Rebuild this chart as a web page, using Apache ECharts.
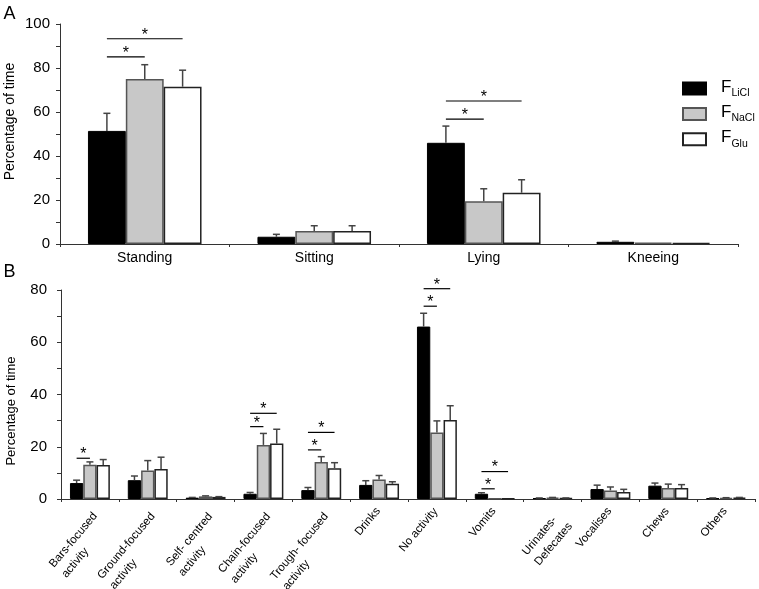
<!DOCTYPE html>
<html><head><meta charset="utf-8">
<script src="https://cdn.jsdelivr.net/npm/echarts@6/dist/echarts.min.js"></script>
<style>html,body{margin:0;padding:0;background:#fff}#c{width:759px;height:589px}</style>
</head><body><div id="c"></div>
<script>
// ---------- Data ----------
const groups = ['LiCl', 'NaCl', 'Glu'];

// Panel A: posture
const postureCats = ['Standing', 'Sitting', 'Lying', 'Kneeing'];
const postureLiCl = [51.4, 3.3, 46.0, 1.0];
const postureLiClSem = [8.0, 1.1, 7.6, 0.3];
const postureNaCl = [75.0, 5.9, 19.4, 0.6];
const postureNaClSem = [6.5, 2.4, 5.7, 0.0];
const postureGlu = [71.5, 5.9, 23.3, 0.4];
const postureGluSem = [7.5, 2.4, 5.9, 0.0];
// [category, fromGroup, toGroup, level]
const postureSig = [[0, 0, 1, 85.1], [0, 0, 2, 93.3], [2, 0, 1, 56.8], [2, 0, 2, 65.0]];
const postureTicks = [0, 20, 40, 60, 80, 100];

// Panel B: behaviours
const behavCats = ['Bars-focused\nactivity', 'Ground-focused\nactivity', 'Self- centred\nactivity',
  'Chain-focused\nactivity', 'Trough- focused\nactivity', 'Drinks', 'No activity', 'Vomits',
  'Urinates-\nDefecates', 'Vocalises', 'Chews', 'Others'];
const behavLiCl = [6.1, 7.2, 0.5, 2.0, 3.4, 5.4, 66.0, 2.0, 0.3, 3.8, 5.1, 0.3];
const behavLiClSem = [1.1, 1.6, 0.1, 0.5, 1.0, 1.6, 5.1, 0.4, 0.1, 1.5, 1.0, 0.1];
const behavNaCl = [13.1, 10.9, 1.0, 20.7, 14.2, 7.5, 25.5, 0.1, 0.5, 3.3, 4.2, 0.4];
const behavNaClSem = [1.1, 3.8, 0.2, 4.4, 2.0, 1.5, 4.4, 0.0, 0.1, 1.3, 1.5, 0.1];
const behavGlu = [13.0, 11.5, 0.8, 21.2, 11.8, 5.8, 30.2, 0.1, 0.3, 2.7, 4.2, 0.5];
const behavGluSem = [2.1, 4.5, 0.1, 5.5, 2.1, 0.8, 5.5, 0.0, 0.1, 1.0, 1.3, 0.1];
const behavSig = [[0, 0, 1, 15.6], [3, 0, 1, 27.7], [3, 0, 2, 32.8], [4, 0, 1, 18.8], [4, 0, 2, 25.5],
  [6, 0, 1, 73.8], [6, 0, 2, 80.5], [7, 0, 1, 3.9], [7, 0, 2, 10.5]];
const behavTicks = [0, 20, 40, 60, 80];

// ---------- Styling ----------
const FONT = 'Liberation Sans, Arial, sans-serif';
const gapA = 0.33, gapB = 0.31;
const barStyles = [
  { color: '#000000', borderColor: '#000000', borderWidth: 1 },
  { color: '#c8c8c8', borderColor: '#555555', borderWidth: 1.5 },
  { color: '#ffffff', borderColor: '#222222', borderWidth: 1.5 }
];

function errRender(gap) {
  return function (params, api) {
    const cat = api.value(0), v = api.value(1), e = api.value(2), g = api.value(3);
    if (!(e > 0)) return null;
    const band = api.size([1, 0])[0];
    const bw = band * (1 - gap) / 3;
    const p0 = api.coord([cat, v]), p1 = api.coord([cat, v + e]);
    const x = p0[0] + (g - 1) * bw;
    return { type: 'group', children: [
      { type: 'line', shape: { x1: x, y1: p0[1], x2: x, y2: p1[1] }, style: { stroke: '#444', lineWidth: 1.5 } },
      { type: 'line', shape: { x1: x - 3.5, y1: p1[1], x2: x + 3.5, y2: p1[1] }, style: { stroke: '#444', lineWidth: 1.5 } }
    ] };
  };
}
function sigRender(gap) {
  return function (params, api) {
    const cat = api.value(0), a = api.value(1), b = api.value(2), lv = api.value(3);
    const band = api.size([1, 0])[0];
    const bw = band * (1 - gap) / 3;
    const c = api.coord([cat, lv]);
    const x1 = c[0] + (a - 1) * bw, x2 = c[0] + (b - 1) * bw;
    return { type: 'group', children: [
      { type: 'line', shape: { x1: x1, y1: c[1], x2: x2, y2: c[1] }, style: { stroke: '#000', lineWidth: 1.2 } },
      { type: 'text', x: (x1 + x2) / 2, y: c[1] - 3.5,
        style: { text: '*', fontSize: 16, fontFamily: FONT, fill: '#000', align: 'center', verticalAlign: 'middle' } }
    ] };
  };
}
function errData(vals, sems) {
  const out = [];
  vals.forEach((arr, g) => arr.forEach((v, i) => out.push([i, v, sems[g][i], g])));
  return out;
}

const aVals = [postureLiCl, postureNaCl, postureGlu], aSems = [postureLiClSem, postureNaClSem, postureGluSem];
const bVals = [behavLiCl, behavNaCl, behavGlu], bSems = [behavLiClSem, behavNaClSem, behavGluSem];

const series = [];
groups.forEach((g, k) => {
  series.push({ name: g, type: 'bar', xAxisIndex: 0, yAxisIndex: 0, data: aVals[k],
    barGap: '0%', barCategoryGap: (gapA * 100) + '%', itemStyle: barStyles[k], z: 2 });
});
groups.forEach((g, k) => {
  series.push({ name: g, type: 'bar', xAxisIndex: 1, yAxisIndex: 1, data: bVals[k],
    barGap: '0%', barCategoryGap: (gapB * 100) + '%', itemStyle: barStyles[k], z: 2 });
});
series.push({ type: 'custom', name: 'errA', xAxisIndex: 0, yAxisIndex: 0, renderItem: errRender(gapA), data: errData(aVals, aSems), z: 3, silent: true });
series.push({ type: 'custom', name: 'errB', xAxisIndex: 1, yAxisIndex: 1, renderItem: errRender(gapB), data: errData(bVals, bSems), z: 3, silent: true });
series.push({ type: 'custom', name: 'sigA', xAxisIndex: 0, yAxisIndex: 0, renderItem: sigRender(gapA), data: postureSig, z: 3, clip: false, silent: true });
series.push({ type: 'custom', name: 'sigB', xAxisIndex: 1, yAxisIndex: 1, renderItem: sigRender(gapB), data: behavSig, z: 3, clip: false, silent: true });

// Left-aligned multi-line category labels for panel B
const LBL_SIZE = 11.5, LBL_LH = 16;
const mctx = document.createElement('canvas').getContext('2d');
mctx.font = LBL_SIZE + 'px "Liberation Sans", Arial, sans-serif';
const labelRich = {};
behavCats.forEach((c, i) => {
  const w = Math.max.apply(null, c.split('\n').map(s => mctx.measureText(s).width));
  labelRich['l' + i] = { width: Math.ceil(w) + 1, align: 'left', fontSize: LBL_SIZE, lineHeight: LBL_LH, fontFamily: FONT, color: '#000' };
});
function behavLabel(v, i) {
  const lines = v.split('\n');
  const body = lines.map(s => '{l' + i + '|' + s + '}').join('\n');
  return lines.length > 1 ? '\n\n' + body : body;
}

const axisLineStyle = { color: '#333', width: 1 };
const yAxisCommon = {
  type: 'value', min: 0, interval: 20,
  splitLine: { show: false },
  axisLine: { show: true, lineStyle: axisLineStyle },
  axisTick: { show: true, length: 4, lineStyle: axisLineStyle },
  minorTick: { show: true, splitNumber: 2, length: 4, lineStyle: axisLineStyle },
  minorSplitLine: { show: false }
};

const option = {
  animation: false,
  backgroundColor: '#fff',
  textStyle: { fontFamily: FONT },
  grid: [
    { left: 60, top: 24, right: 21, bottom: 345, outerBoundsMode: 'none', containLabel: false },
    { left: 61, top: 290, right: 4, bottom: 90, outerBoundsMode: 'none', containLabel: false }
  ],
  xAxis: [
    { type: 'category', gridIndex: 0, data: postureCats,
      axisLine: { lineStyle: axisLineStyle }, axisTick: { show: true, length: 3, lineStyle: axisLineStyle },
      axisLabel: { fontSize: 14, color: '#000', margin: 7, fontFamily: FONT } },
    { type: 'category', gridIndex: 1, data: behavCats,
      axisLine: { lineStyle: axisLineStyle }, axisTick: { show: true, length: 3, lineStyle: axisLineStyle },
      axisLabel: { fontSize: LBL_SIZE, color: '#000', margin: 9, rotate: 50, interval: 0, lineHeight: LBL_LH, fontFamily: FONT,
        formatter: behavLabel, rich: labelRich } }
  ],
  yAxis: [
    Object.assign({}, yAxisCommon, { gridIndex: 0, max: postureTicks[postureTicks.length - 1],
      axisLabel: { fontSize: 15, color: '#000', margin: 10, fontFamily: FONT } }),
    Object.assign({}, yAxisCommon, { gridIndex: 1, max: behavTicks[behavTicks.length - 1],
      axisLabel: { fontSize: 15, color: '#000', margin: 14, fontFamily: FONT } })
  ],
  legend: {
    data: groups, orient: 'vertical', left: 682, top: 78.5, padding: 0, icon: 'rect',
    itemWidth: 23, itemHeight: 12, itemGap: 5.4, selectedMode: false,
    formatter: n => '{f|F}{s|' + n + '}',
    textStyle: { color: '#000', fontFamily: FONT,
      rich: {
        f: { fontSize: 17, lineHeight: 20, verticalAlign: 'top', padding: [0, 0, 0, 10], fontFamily: FONT, color: '#000' },
        s: { fontSize: 10.5, lineHeight: 20, verticalAlign: 'bottom', fontFamily: FONT, color: '#000' }
      } }
  },
  graphic: [
    { type: 'text', x: 9.5, y: 14, style: { text: 'A', fontSize: 18, fontFamily: FONT, fill: '#000', align: 'center', verticalAlign: 'middle', textAlign: 'center', textVerticalAlign: 'middle' } },
    { type: 'text', x: 9.5, y: 272, style: { text: 'B', fontSize: 18, fontFamily: FONT, fill: '#000', align: 'center', verticalAlign: 'middle', textAlign: 'center', textVerticalAlign: 'middle' } },
    { type: 'text', x: 10, y: 121.5, rotation: Math.PI / 2, style: { text: 'Percentage of time', fontSize: 14, fontFamily: FONT, fill: '#000', align: 'center', verticalAlign: 'middle', textAlign: 'center', textVerticalAlign: 'middle' } },
    { type: 'text', x: 11, y: 411, rotation: Math.PI / 2, style: { text: 'Percentage of time', fontSize: 13, fontFamily: FONT, fill: '#000', align: 'center', verticalAlign: 'middle', textAlign: 'center', textVerticalAlign: 'middle' } }
  ],
  series: series
};

const chart = echarts.init(document.getElementById('c'), null, { renderer: 'canvas' });
chart.setOption(option);
</script>
</body></html>
